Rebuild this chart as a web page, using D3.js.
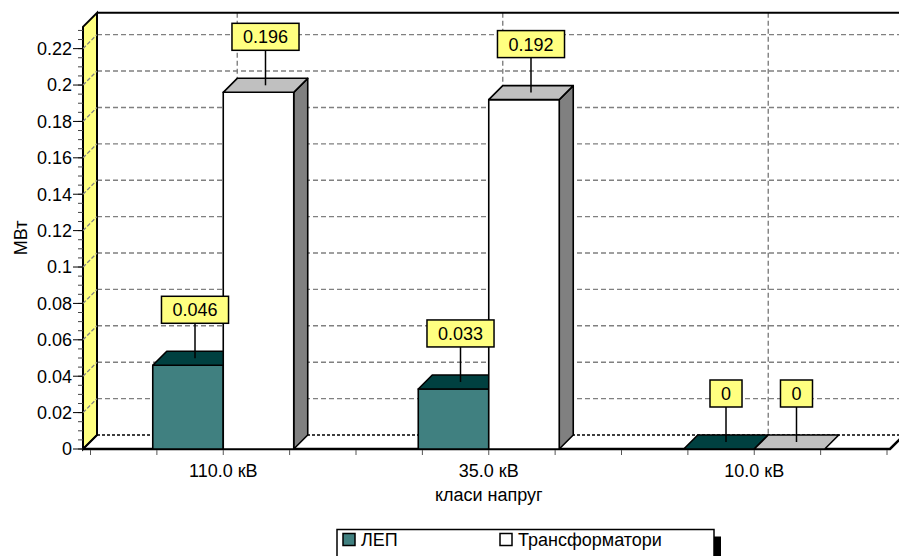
<!DOCTYPE html>
<html>
<head>
<meta charset="utf-8">
<script src="https://cdn.jsdelivr.net/npm/d3@7"></script>
<style>
  html, body { margin: 0; padding: 0; background: #fff; }
  svg { display: block; font-family: "Liberation Sans", Arial, sans-serif; }
</style>
</head>
<body>
<svg id="chart" width="899" height="556"></svg>
<script>
// Power losses by voltage class, MW
const categories = ["110.0 кВ", "35.0 кВ", "10.0 кВ"];
const seriesNames = ["ЛЕП", "Трансформатори"];
const lepValues = [0.046, 0.033, 0];
const trValues = [0.196, 0.192, 0];
const lepLabels = ["0.046", "0.033", "0"];
const trLabels = ["0.196", "0.192", "0"];
const yTickValues = [0, 0.02, 0.04, 0.06, 0.08, 0.1, 0.12, 0.14, 0.16, 0.18, 0.2, 0.22];
const yTickLabels = ["0", "0.02", "0.04", "0.06", "0.08", "0.1", "0.12", "0.14", "0.16", "0.18", "0.2", "0.22"];
const yAxisTitle = "МВт";
const xAxisTitle = "класи напруг";

const svg = d3.select("#chart");
const W = 899, H = 556;
const FONT = 18;

// 3D depth offset of the back wall
const DX = 14, DY = -14;
const wallLeft = 83;            // front edge of the left (yellow) wall
const floorRight = 890;

const y = d3.scaleLinear().domain([0, 0.232]).range([449, 26.8]);
const x = d3.scaleBand().domain(categories).range([90.5, 887]).padding(0);
const bw = x.bandwidth() * 0.2655;

const series = [
  { name: seriesNames[0], values: lepValues, labels: lepLabels, front: "#408080", top: "#004040", side: "#004040", offset: -1 },
  { name: seriesNames[1], values: trValues, labels: trLabels, front: "#ffffff", top: "#c0c0c0", side: "#808080", offset: 0 }
];

const y0 = y(0);
const yTop = y.range()[1];

// ---- back wall ----
svg.append("rect")
  .attr("x", wallLeft + DX).attr("y", yTop + DY)
  .attr("width", W - wallLeft - DX + 5).attr("height", y0 - yTop)
  .attr("fill", "#fff");

// ---- floor ----
svg.append("path")
  .attr("d", `M${wallLeft},${y0} L${floorRight},${y0} L${floorRight + DX},${y0 + DY} L${wallLeft + DX},${y0 + DY} Z`)
  .attr("fill", "#fff").attr("stroke", "none");

// horizontal grid on back wall
const grid = svg.append("g");
grid.selectAll("line.h")
  .data(yTickValues.filter(v => v > 0))
  .join("line")
  .attr("x1", wallLeft + DX).attr("x2", W + 2)
  .attr("y1", d => y(d) + DY).attr("y2", d => y(d) + DY)
  .attr("stroke", "#808080").attr("stroke-width", 1.4)
  .attr("stroke-dasharray", "5,3");

// vertical grid on back wall at category centres
grid.selectAll("line.v")
  .data(categories)
  .join("line")
  .attr("x1", d => x(d) + x.bandwidth() / 2 + DX)
  .attr("x2", d => x(d) + x.bandwidth() / 2 + DX)
  .attr("y1", yTop + DY).attr("y2", y0 + DY)
  .attr("stroke", "#808080").attr("stroke-width", 1.4)
  .attr("stroke-dasharray", "5,3");

// floor back edge (zero line on the back wall)
svg.append("line")
  .attr("x1", wallLeft + DX).attr("x2", W + 2)
  .attr("y1", y0 + DY).attr("y2", y0 + DY)
  .attr("stroke", "#000").attr("stroke-width", 1.5)
  .attr("stroke-dasharray", "3,2");

// back wall top edge
svg.append("line")
  .attr("x1", wallLeft + DX).attr("x2", W + 2)
  .attr("y1", yTop + DY).attr("y2", yTop + DY)
  .attr("stroke", "#000").attr("stroke-width", 2);

// ---- left wall ----
svg.append("path")
  .attr("d", `M${wallLeft},${y0} L${wallLeft},${yTop} L${wallLeft + DX},${yTop + DY} L${wallLeft + DX},${y0 + DY} Z`)
  .attr("fill", "#ffff80").attr("stroke", "#000").attr("stroke-width", 2)
  .attr("stroke-linejoin", "miter");

svg.append("g").selectAll("line")
  .data(yTickValues.filter(v => v > 0))
  .join("line")
  .attr("x1", wallLeft).attr("x2", wallLeft + DX)
  .attr("y1", d => y(d)).attr("y2", d => y(d) + DY)
  .attr("stroke", "#808080").attr("stroke-width", 1.3)
  .attr("stroke-dasharray", "4,2");

// ---- floor front edge and right edge ----
svg.append("path")
  .attr("d", `M${wallLeft},${y0} L${floorRight},${y0} L${floorRight + DX},${y0 + DY}`)
  .attr("fill", "none").attr("stroke", "#000").attr("stroke-width", 2.5);
svg.append("line")
  .attr("x1", wallLeft).attr("x2", wallLeft + DX)
  .attr("y1", y0).attr("y2", y0 + DY)
  .attr("stroke", "#000").attr("stroke-width", 1.5);

// ---- bars ----
const bars = svg.append("g");
categories.forEach((c, i) => {
  const cx = x(c) + x.bandwidth() / 2;
  series.forEach(s => {
    const v = s.values[i];
    const x0 = cx + s.offset * bw;
    const x1 = x0 + bw;
    const yt = y(v);
    const g = bars.append("g").attr("stroke", "#000").attr("stroke-width", 1.6).attr("stroke-linejoin", "round");
    if (v > 0) {
      // right side face
      g.append("path")
        .attr("d", `M${x1},${y0} L${x1},${yt} L${x1 + DX},${yt + DY} L${x1 + DX},${y0 + DY} Z`)
        .attr("fill", s.side);
      // front face
      g.append("rect")
        .attr("x", x0).attr("y", yt)
        .attr("width", bw).attr("height", y0 - yt)
        .attr("fill", s.front);
    }
    // top face
    g.append("path")
      .attr("d", `M${x0},${yt} L${x1},${yt} L${x1 + DX},${yt + DY} L${x0 + DX},${yt + DY} Z`)
      .attr("fill", s.top);
  });
});

// ---- value labels ----
const labels = svg.append("g");
categories.forEach((c, i) => {
  const cx = x(c) + x.bandwidth() / 2;
  series.forEach(s => {
    const v = s.values[i];
    const lx = cx + s.offset * bw + bw / 2 + DX / 2;
    const ly = y(v) + DY / 2;
    const boxBottom = ly - 35;
    const g = labels.append("g");
    g.append("line")
      .attr("x1", lx).attr("x2", lx)
      .attr("y1", ly).attr("y2", boxBottom)
      .attr("stroke", "#000").attr("stroke-width", 1.5);
    const t = g.append("text")
      .attr("x", lx).attr("y", boxBottom - 7)
      .attr("text-anchor", "middle")
      .attr("font-size", FONT)
      .attr("fill", "#000")
      .text(s.labels[i]);
    const tw = t.node().getComputedTextLength();
    g.insert("rect", "text")
      .attr("x", lx - tw / 2 - 11).attr("y", boxBottom - 27)
      .attr("width", tw + 22).attr("height", 27)
      .attr("fill", "#ffff80").attr("stroke", "#000").attr("stroke-width", 1.5);
  });
});

// ---- y axis ticks and labels ----
const yAxisG = svg.append("g");
const minorTicks = d3.range(0, 47).map(k => k * 0.005).filter(v => v <= y.domain()[1]);
yAxisG.selectAll("line.minor")
  .data(minorTicks)
  .join("line")
  .attr("x1", wallLeft - 5).attr("x2", wallLeft)
  .attr("y1", d => y(d)).attr("y2", d => y(d))
  .attr("stroke", "#444").attr("stroke-width", 1);
yAxisG.selectAll("line.major")
  .data(yTickValues)
  .join("line")
  .attr("x1", wallLeft - 10).attr("x2", wallLeft)
  .attr("y1", d => y(d)).attr("y2", d => y(d))
  .attr("stroke", "#000").attr("stroke-width", 1);
yAxisG.selectAll("text")
  .data(yTickValues)
  .join("text")
  .attr("x", wallLeft - 11)
  .attr("y", d => y(d))
  .attr("dy", "0.35em")
  .attr("text-anchor", "end")
  .attr("font-size", FONT)
  .attr("fill", "#000")
  .text((d, i) => yTickLabels[i]);

svg.append("text")
  .attr("transform", `translate(27,${(y0 + yTop) / 2}) rotate(-90)`)
  .attr("text-anchor", "middle")
  .attr("font-size", FONT)
  .text(yAxisTitle);

// ---- x axis ticks and labels ----
const xr = x.range();
const xTicks = d3.range(0, categories.length * 4 + 1).map(k => xr[0] + k * x.bandwidth() / 4);
svg.append("g").selectAll("line")
  .data(xTicks)
  .join("line")
  .attr("x1", d => d).attr("x2", d => d)
  .attr("y1", y0 + 1).attr("y2", y0 + 6)
  .attr("stroke", "#555").attr("stroke-width", 1);

svg.append("g").selectAll("text")
  .data(categories)
  .join("text")
  .attr("x", d => x(d) + x.bandwidth() / 2)
  .attr("y", 477)
  .attr("text-anchor", "middle")
  .attr("font-size", FONT)
  .text(d => d);

svg.append("text")
  .attr("x", (xr[0] + xr[1]) / 2)
  .attr("y", 501)
  .attr("text-anchor", "middle")
  .attr("font-size", FONT)
  .text(xAxisTitle);

// ---- legend ----
const lg = svg.append("g");
const lgX = 337, lgY = 529.5, lgW = 377, lgH = 40;
lg.append("rect").attr("x", lgX + 7).attr("y", lgY + 7).attr("width", lgW).attr("height", lgH).attr("fill", "#000");
lg.append("rect").attr("x", lgX).attr("y", lgY).attr("width", lgW).attr("height", lgH)
  .attr("fill", "#fff").attr("stroke", "#000").attr("stroke-width", 1.5);
const legendCols = [lgX + 6, lgX + 163];
series.forEach((s, i) => {
  lg.append("rect")
    .attr("x", legendCols[i]).attr("y", lgY + 4)
    .attr("width", 12).attr("height", 12)
    .attr("fill", s.front).attr("stroke", "#000").attr("stroke-width", 1.5);
  lg.append("text")
    .attr("x", legendCols[i] + 18).attr("y", lgY + 16.5)
    .attr("font-size", FONT)
    .text(s.name);
});
</script>
</body>
</html>
